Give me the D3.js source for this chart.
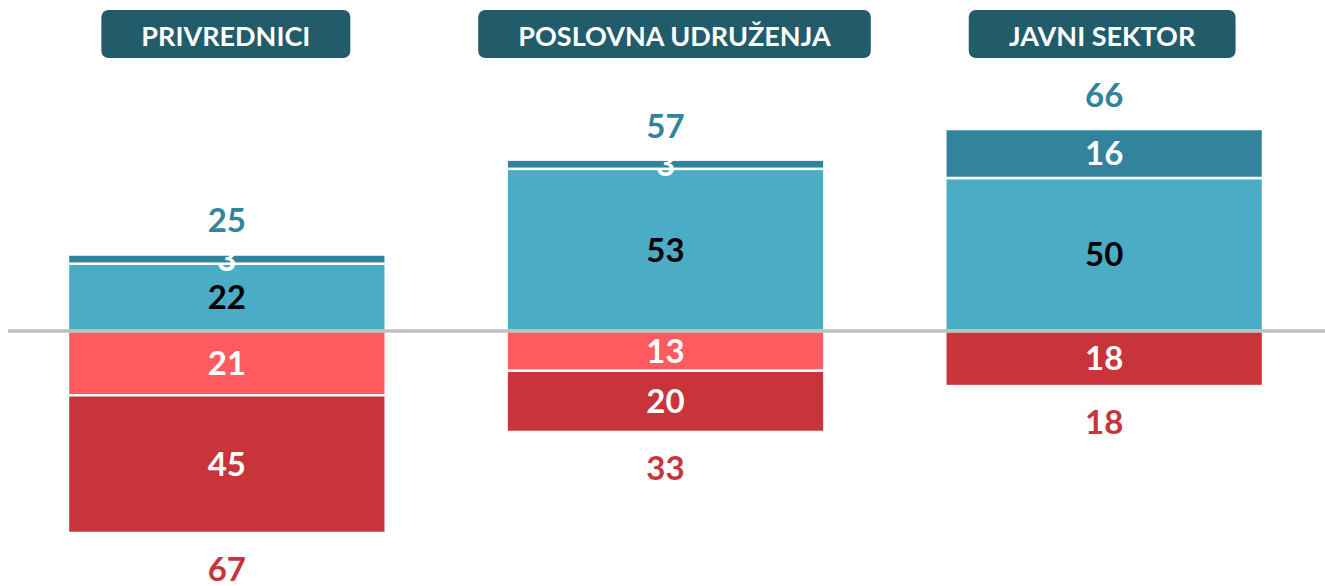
<!DOCTYPE html>
<html>
<head>
<meta charset="utf-8">
<script src="https://cdn.jsdelivr.net/npm/d3@7"></script>
<style>
  body { margin: 0; background: #fff; }
  text { font-family: Lato, "Open Sans", sans-serif; font-weight: 700; }
</style>
</head>
<body>
<div class="chartDiv"></div>
<script>
'use strict';

// data
var categories = ["PRIVREDNICI", "POSLOVNA UDRUŽENJA", "JAVNI SEKTOR"];
var posInner = [22, 53, 50];   // light blue
var posOuter = [3, 3, 16];     // dark teal
var negInner = [21, 13, 0];    // light red
var negOuter = [45, 20, 18];   // dark red
var posTotals = [25, 57, 66];
var negTotals = [67, 33, 18];

var width = 1325, height = 586;
var colors = { posInner: "#4BACC6", posOuter: "#31849B", negInner: "#FF5A5F", negOuter: "#C9333A", title: "#225B69" };

var svg = d3.select('.chartDiv').append('svg')
    .attr('width', width)
    .attr('height', height);

var x = d3.scaleBand()
    .domain(categories)
    .range([7.5, 1323.5])
    .paddingInner(0.2756)
    .paddingOuter(0.1378);

var pxPerUnit = 3.06;
var y = d3.scaleLinear()
    .domain([-85, 100])
    .range([331 + 85 * pxPerUnit, 331 - 100 * pxPerUnit]);

// build segments (stacked away from zero)
var segments = [];
categories.forEach(function(c, i) {
  segments.push({ cat: c, y0: 0, y1: posInner[i], v: posInner[i], fill: colors.posInner, label: "#000" });
  segments.push({ cat: c, y0: posInner[i], y1: posInner[i] + posOuter[i], v: posOuter[i], fill: colors.posOuter, label: "#fff" });
  segments.push({ cat: c, y0: 0, y1: -negInner[i], v: negInner[i], fill: colors.negInner, label: "#fff" });
  segments.push({ cat: c, y0: -negInner[i], y1: -negInner[i] - negOuter[i], v: negOuter[i], fill: colors.negOuter, label: "#fff" });
});
segments = segments.filter(function(d) { return d.v > 0; });

svg.selectAll(".seg")
  .data(segments)
  .enter().append("rect")
    .attr("class", "seg")
    .attr("x", function(d) { return x(d.cat); })
    .attr("width", x.bandwidth())
    .attr("y", function(d) { return Math.min(y(d.y0), y(d.y1)); })
    .attr("height", function(d) { return Math.abs(y(d.y0) - y(d.y1)); })
    .attr("fill", function(d) { return d.fill; })
    .attr("stroke", "#fff")
    .attr("stroke-width", 2.5);

svg.selectAll(".segLabel")
  .data(segments)
  .enter().append("text")
    .attr("class", "segLabel")
    .attr("x", function(d) { return x(d.cat) + x.bandwidth() / 2; })
    .attr("y", function(d) { return (y(d.y0) + y(d.y1)) / 2; })
    .attr("dy", "0.36em")
    .attr("text-anchor", "middle")
    .style("font-size", "33px")
    .attr("fill", function(d) { return d.label; })
    .text(function(d) { return d.v; });

// zero line
svg.append("line")
    .attr("x1", 8).attr("x2", width)
    .attr("y1", y(0)).attr("y2", y(0))
    .attr("stroke", "#BFBFBF")
    .attr("stroke-width", 3.5);

// totals
svg.selectAll(".posTotal")
  .data(categories)
  .enter().append("text")
    .attr("class", "posTotal")
    .attr("x", function(d) { return x(d) + x.bandwidth() / 2; })
    .attr("y", function(d, i) { return y(posInner[i] + posOuter[i]) - 34; })
    .attr("dy", "0.36em")
    .attr("text-anchor", "middle")
    .style("font-size", "33px")
    .attr("fill", colors.posOuter)
    .text(function(d, i) { return posTotals[i]; });

svg.selectAll(".negTotal")
  .data(categories)
  .enter().append("text")
    .attr("class", "negTotal")
    .attr("x", function(d) { return x(d) + x.bandwidth() / 2; })
    .attr("y", function(d, i) { return y(-negInner[i] - negOuter[i]) + 36; })
    .attr("dy", "0.36em")
    .attr("text-anchor", "middle")
    .style("font-size", "33px")
    .attr("fill", colors.negOuter)
    .text(function(d, i) { return negTotals[i]; });

// category title boxes
var titleShift = [-1, 9, -2];
var titles = svg.selectAll(".title")
  .data(categories)
  .enter().append("g")
    .attr("class", "title")
    .attr("transform", function(d, i) { return "translate(" + (x(d) + x.bandwidth() / 2 + titleShift[i]) + ",0)"; });

titles.append("rect")
    .attr("y", 10)
    .attr("height", 48)
    .attr("rx", 7)
    .attr("fill", colors.title);

titles.append("text")
    .attr("y", 46)
    .attr("text-anchor", "middle")
    .style("font-size", "27px")
    .attr("fill", "#fff")
    .text(function(d) { return d; });

titles.each(function() {
  var g = d3.select(this);
  var w = g.select("text").node().getBBox().width + 80;
  g.select("rect").attr("x", -w / 2).attr("width", w);
});
</script>
</body>
</html>
